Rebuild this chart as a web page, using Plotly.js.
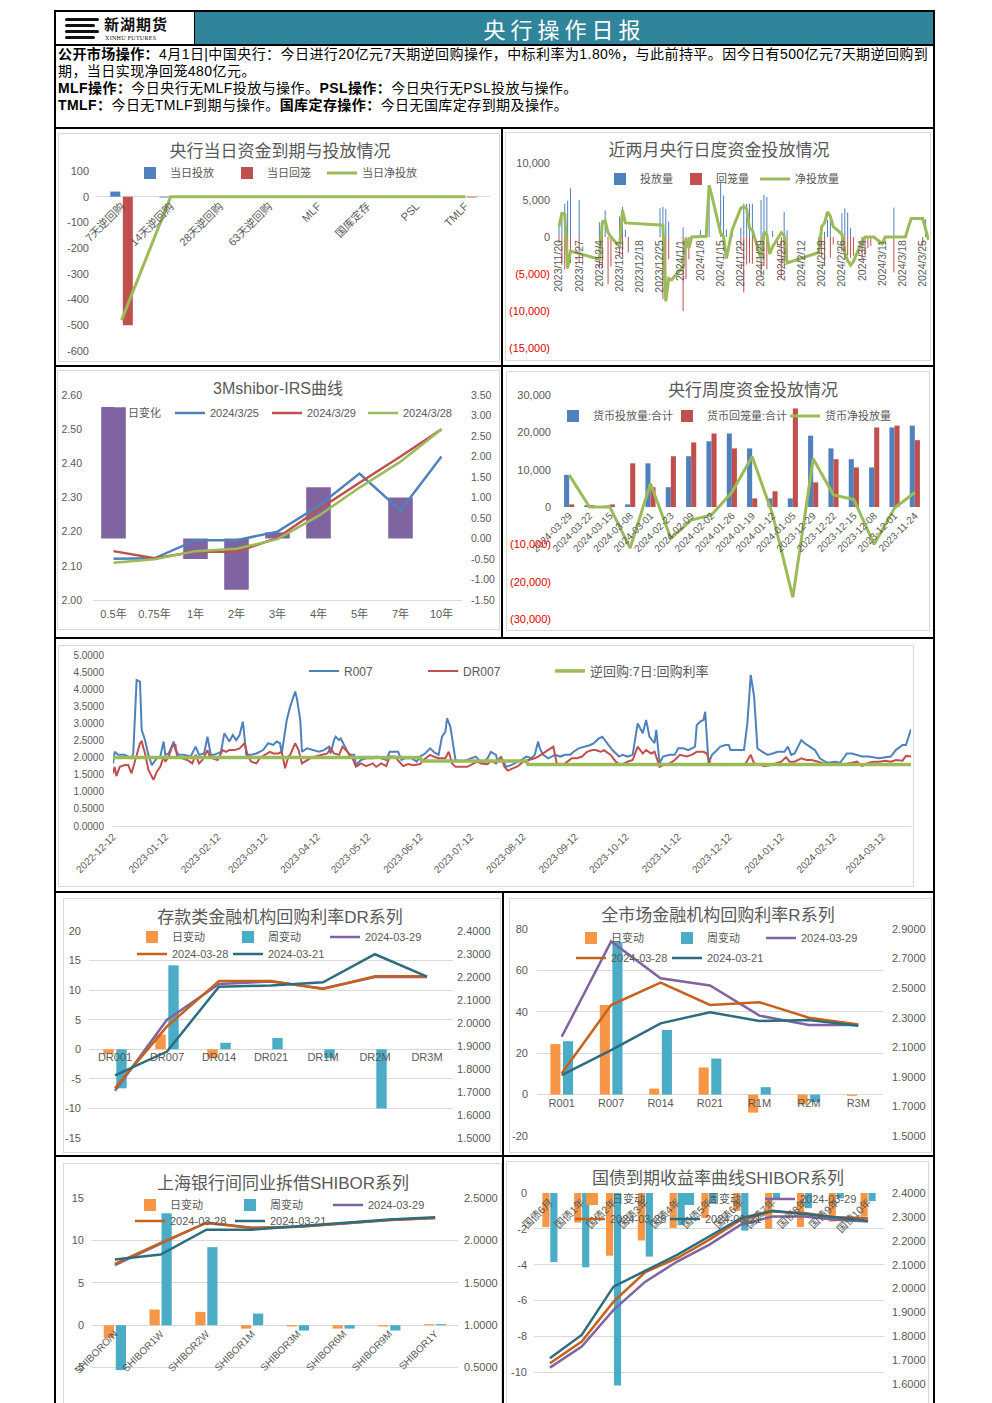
<!DOCTYPE html>
<html><head><meta charset="utf-8">
<script src="https://cdn.plot.ly/plotly-3.0.1.min.js"></script>
<style>
html,body{margin:0;padding:0;background:#fff;}
body{width:992px;height:1403px;overflow:hidden;position:relative;font-family:"Noto Sans CJK SC","Noto Sans",sans-serif;}
.abs{position:absolute;}
.bl{position:absolute;background:#000;z-index:20;}
.tl{position:absolute;left:0;height:17px;line-height:17px;white-space:nowrap;}
</style></head><body>

<!-- header -->
<div class="abs" style="left:55px;top:11px;width:140px;height:34px;background:#fff;">
  <div class="abs" style="left:10px;top:7px;width:34px;height:3px;background:#111;border-radius:2px;"></div>
  <div class="abs" style="left:10px;top:13px;width:30px;height:3px;background:#111;border-radius:2px;"></div>
  <div class="abs" style="left:10px;top:19px;width:34px;height:3px;background:#111;border-radius:2px;"></div>
  <div class="abs" style="left:10px;top:25px;width:30px;height:3px;background:#111;border-radius:2px;"></div>
  <div class="abs" style="left:49px;top:4px;font-size:15px;font-weight:bold;color:#111;line-height:18px;letter-spacing:1px;">新湖期货</div>
  <div class="abs" style="left:50px;top:24px;font-size:6px;color:#111;line-height:7px;font-family:'Liberation Serif',serif;letter-spacing:0.3px;">XINHU FUTURES</div>
</div>
<div class="abs" style="left:195px;top:11px;width:739px;height:34px;background:#31859B;color:#fff;font-size:22px;line-height:34px;text-align:center;letter-spacing:5px;">央行操作日报</div>

<div id="txt" class="abs" style="left:58px;top:46px;width:876px;height:82px;font-size:14px;color:#000;font-family:'Liberation Sans','Noto Sans CJK SC',sans-serif;">
  <div id="ln1" class="tl" style="top:0px;"><b>公开市场操作：</b>4月1日|中国央行：今日进行20亿元7天期逆回购操作，中标利率为1.80%，与此前持平。因今日有500亿元7天期逆回购到</div>
  <div class="tl" style="top:17px;">期，当日实现净回笼480亿元。</div>
  <div class="tl" style="top:34px;"><b>MLF操作：</b>今日央行无MLF投放与操作。<b>PSL操作：</b>今日央行无PSL投放与操作。</div>
  <div class="tl" style="top:51px;"><b>TMLF：</b>今日无TMLF到期与操作。<b>国库定存操作：</b>今日无国库定存到期及操作。</div>
</div>

<!-- frame lines -->
<div class="bl" style="left:55px;top:10px;width:880px;height:2px;"></div>
<div class="bl" style="left:55px;top:44px;width:880px;height:2px;"></div>
<div class="bl" style="left:55px;top:127px;width:880px;height:2px;"></div>
<div class="bl" style="left:55px;top:365px;width:880px;height:2px;"></div>
<div class="bl" style="left:55px;top:637px;width:880px;height:2px;"></div>
<div class="bl" style="left:55px;top:891px;width:880px;height:2px;"></div>
<div class="bl" style="left:55px;top:1155px;width:880px;height:2px;"></div>
<div class="bl" style="left:54px;top:10px;width:2px;height:1400px;"></div>
<div class="bl" style="left:933px;top:10px;width:2px;height:1400px;"></div>
<div class="bl" style="left:501px;top:127px;width:2px;height:512px;"></div>
<div class="bl" style="left:502px;top:891px;width:2px;height:520px;"></div>
<div class="bl" style="left:194px;top:10px;width:1px;height:36px;"></div>

<script>
// ---------------- DATA ----------------
// Chart 1: 央行当日资金到期与投放情况
const c1Cats = ['7天逆回购','14天逆回购','28天逆回购','63天逆回购','MLF','国库定存','PSL','TMLF'];
const c1Inject = [20, -3, 0, 0, 0, 0, 0, 0];
const c1Withdraw = [-500, 0, 0, 0, 0, 0, 0, -3];
const c1Net = [-480, 0, 0, 0, 0, 0, 0, 0];
const c1YTicks = [-600,-500,-400,-300,-200,-100,0,100];
const c1YLabels = ['-600','-500','-400','-300','-200','-100','0','100'];

// Chart 2: 近两月央行日度资金投放情况
const c2InvDates = ['2023-11-20','2023-11-21','2023-11-22','2023-11-23','2023-11-24','2023-11-27','2023-12-04','2023-12-05','2023-12-06','2023-12-11','2023-12-12','2023-12-13','2023-12-25','2023-12-26','2023-12-27','2023-12-28','2024-01-02','2024-01-08','2024-01-11','2024-01-15','2024-01-16','2024-01-17','2024-01-19','2024-01-22','2024-01-23','2024-01-24','2024-01-25','2024-01-26','2024-01-29','2024-01-30','2024-01-31','2024-02-02','2024-02-06','2024-02-07','2024-02-19','2024-02-20','2024-02-21','2024-02-22','2024-02-26','2024-02-27','2024-02-28','2024-02-29','2024-03-15','2024-03-26'];
const c2InvValues = [1800,3000,4500,4900,6600,5000,2000,2300,3600,2800,4100,1000,3900,4100,3800,2100,1300,900,7000,7500,5600,1000,1000,1300,4500,4500,4500,4500,5000,5700,5400,800,3400,900,500,700,2300,3000,3200,3900,3300,1200,4000,2400];
const c2WdDates = ['2023-11-20','2023-11-21','2023-11-22','2023-11-23','2023-11-24','2023-11-27','2023-12-04','2023-12-05','2023-12-07','2023-12-08','2023-12-11','2023-12-12','2023-12-14','2023-12-26','2023-12-27','2023-12-28','2024-01-02','2024-01-03','2024-01-04','2024-01-22','2024-01-23','2024-01-24','2024-01-25','2024-01-26','2024-01-29','2024-01-30','2024-01-31','2024-02-05','2024-02-06','2024-02-07','2024-02-18','2024-02-19','2024-02-20','2024-02-22','2024-02-23','2024-02-26','2024-02-27','2024-02-28','2024-02-29','2024-03-01','2024-03-04','2024-03-05','2024-03-06','2024-03-07','2024-03-15','2024-03-25'];
const c2WdValues = [-800,-3500,-4400,-4300,-3500,-3500,-4300,-4200,-6400,-4000,-2500,-2500,-2100,-8400,-7500,-3000,-10000,-5700,-3000,-1500,-7500,-3700,-3500,-3600,-5300,-3900,-4400,-5500,-3900,-2600,-1900,-2600,-3900,-2800,-1000,-2000,-2000,-2500,-2800,-2500,-3000,-2500,-1500,-1200,-4800,-1250];
const c2NetDates = ['2023-11-20','2023-11-21','2023-11-22','2023-11-23','2023-11-24','2023-11-27','2023-12-01','2023-12-04','2023-12-05','2023-12-06','2023-12-07','2023-12-08','2023-12-11','2023-12-12','2023-12-13','2023-12-26','2023-12-27','2023-12-28','2023-12-29','2024-01-02','2024-01-03','2024-01-04','2024-01-05','2024-01-08','2024-01-10','2024-01-11','2024-01-12','2024-01-15','2024-01-16','2024-01-17','2024-01-19','2024-01-22','2024-01-23','2024-01-24','2024-01-25','2024-01-26','2024-01-29','2024-01-30','2024-01-31','2024-02-01','2024-02-02','2024-02-05','2024-02-06','2024-02-07','2024-02-18','2024-02-19','2024-02-20','2024-02-21','2024-02-22','2024-02-23','2024-02-26','2024-02-27','2024-02-28','2024-02-29','2024-03-01','2024-03-04','2024-03-05','2024-03-08','2024-03-11','2024-03-12','2024-03-19','2024-03-20','2024-03-21','2024-03-25','2024-03-26','2024-03-27'];
const c2NetValues = [1400,3200,3100,-4200,-1900,-2200,-2700,-3000,1900,2200,600,0,-1300,3600,1900,1600,-8700,-5600,-5800,-4000,-200,-1500,0,0,100,7000,5500,500,100,-2900,1000,3900,4100,3800,1200,900,-3000,700,300,-2300,-1300,600,200,-3500,-2100,1400,1900,3400,2800,1400,400,-2100,-3200,-3800,-3300,-500,0,0,-900,0,0,1300,2500,2500,1000,-400];
const c2YTicks = [-15000,-10000,-5000,0,5000,10000];
const c2YLabels = ['(15,000)','(10,000)','(5,000)','0','5,000','10,000'];

// Chart 3: 3Mshibor-IRS曲线
const c3Cats = ['0.5年','0.75年','1年','2年','3年','4年','5年','7年','10年'];
const c3DayChg = [3.2, 0, -0.5, -1.25, 0.15, 1.25, 0, 1.0, 0];
const c3S0325 = [2.121, 2.122, 2.175, 2.175, 2.200, 2.275, 2.370, 2.262, 2.420];
const c3S0329 = [2.143, 2.122, 2.141, 2.141, 2.182, 2.265, 2.343, 2.420, 2.500];
const c3S0328 = [2.109, 2.119, 2.143, 2.150, 2.178, 2.246, 2.329, 2.405, 2.500];
const c3LeftTicks = [2.0,2.1,2.2,2.3,2.4,2.5,2.6];
const c3LeftLabels = ['2.00','2.10','2.20','2.30','2.40','2.50','2.60'];
const c3RightTicks = [-1.5,-1,-0.5,0,0.5,1,1.5,2,2.5,3,3.5];
const c3RightLabels = ['-1.50','-1.00','-0.50','0.00','0.50','1.00','1.50','2.00','2.50','3.00','3.50'];

// Chart 4: 央行周度资金投放情况
const c4Cats = ['2024-03-29','2024-03-22','2024-03-15','2024-03-08','2024-03-01','2024-02-23','2024-02-09','2024-02-02','2024-01-26','2024-01-19','2024-01-12','2024-01-05','2023-12-29','2023-12-22','2023-12-15','2023-12-08','2023-12-01','2023-11-24'];
const c4Inject = [8600,500,400,700,11700,5300,13600,17600,19700,15700,2300,2300,19100,15700,12800,10600,21300,21800];
const c4Withdraw = [700,500,700,11700,5300,13600,17300,19700,15700,2300,4200,26400,6600,12800,10600,21300,21800,17900];
const c4Net = [8600,0,0,-11000,6300,-8400,-3500,-2100,3900,13500,-1900,-24200,12900,3200,2000,-10000,-300,3900];
const c4YTicks = [-30000,-20000,-10000,0,10000,20000,30000];
const c4YLabels = ['(30,000)','(20,000)','(10,000)','0','10,000','20,000','30,000'];

// Chart 5: R007 / DR007 / 逆回购:7日:回购利率 (x = days after 2022-12-12)
const c5Start = '2022-12-12';
const c5R007Day = [0,1,3,7,11,12,14,16,17,19,21,23,26,28,30,31,33,36,37,39,42,46,49,51,54,56,58,60,64,66,69,71,73,75,77,79,82,85,89,92,95,97,99,100,103,105,108,109,111,112,115,119,122,125,128,129,131,132,134,135,138,140,143,144,147,150,154,156,159,162,164,167,169,171,173,177,180,182,185,188,190,193,195,197,198,200,202,203,207,210,213,215,218,220,222,224,227,228,231,233,236,238,242,245,248,250,252,253,255,258,262,265,268,271,273,276,280,283,285,288,290,293,296,300,302,305,308,311,314,316,318,321,322,324,326,330,333,335,338,341,345,346,348,350,351,353,355,357,360,363,365,366,369,371,374,376,378,380,382,385,388,391,394,398,400,402,404,408,410,413,416,419,422,424,428,431,434,435,438,441,444,448,451,454,458,461,464,468,470,473];
const c5R007 = [1.83,2.17,2.08,2.08,1.98,2.12,4.27,4.22,2.81,2.51,2.08,1.78,1.98,2.03,2.47,2.08,2.12,2.47,2.22,2.08,2.08,2.03,2.32,2.08,2.12,2.61,2.08,2.08,2.17,2.71,2.47,2.66,2.51,2.66,3.05,2.08,2.08,2.12,2.22,2.42,2.37,2.47,2.42,2.12,3.10,3.49,3.93,3.73,3.10,2.17,2.27,2.22,2.17,2.22,2.32,2.12,2.51,2.61,2.51,2.56,2.27,2.08,2.08,1.78,1.93,1.98,1.98,2.03,1.98,1.93,2.17,2.17,2.17,1.93,1.98,1.98,1.88,2.03,2.12,2.27,2.17,2.08,2.61,2.76,3.15,2.90,2.22,1.93,1.88,1.93,1.98,2.03,1.88,1.88,1.98,2.17,2.08,1.88,1.93,1.73,1.78,1.83,1.93,2.03,1.98,2.08,2.47,2.27,2.08,1.98,2.08,2.03,2.08,2.08,2.17,2.27,2.32,2.37,2.42,2.56,2.61,2.42,2.22,2.03,2.08,2.03,2.08,3.00,2.71,3.10,2.61,2.42,2.81,1.83,2.03,2.08,2.08,2.27,2.27,2.22,2.32,2.95,3.05,3.10,3.34,1.83,2.08,2.17,2.32,2.37,2.37,2.22,2.22,2.22,2.22,3.00,4.42,3.78,2.27,2.17,2.08,2.12,2.17,2.17,2.32,2.08,2.12,2.51,2.42,2.32,2.22,1.98,1.88,1.85,1.88,1.85,2.08,2.12,2.12,2.08,2.03,2.03,2.01,1.98,2.01,2.03,2.22,2.37,2.37,2.83];
const c5DR007Day = [0,1,2,4,7,9,11,13,16,17,19,21,24,26,28,30,31,33,35,37,38,41,44,47,49,51,53,56,57,59,62,65,67,69,72,75,78,80,82,85,87,90,93,95,98,100,102,104,105,108,110,112,115,117,120,124,127,129,131,134,136,139,142,144,147,150,154,156,159,162,164,167,169,172,175,178,182,184,188,190,193,197,199,201,203,207,210,213,216,218,222,224,227,230,232,234,237,240,243,247,250,252,256,259,261,263,265,268,272,275,278,281,284,286,289,291,295,298,301,305,308,311,314,316,319,321,324,326,330,333,336,340,343,346,350,352,354,358,361,365,368,371,375,378,380,383,386,390,393,396,399,401,404,408,411,414,418,421,424,428,431,434,438,441,444,448,451,454,458,461,464,468,470,473];
const c5DR007 = [1.54,1.73,1.46,1.73,1.78,1.78,1.54,1.88,2.42,2.47,2.12,1.64,1.35,1.59,1.73,2.03,1.88,2.03,2.32,2.37,2.03,1.98,1.93,1.83,2.08,1.83,1.93,2.22,2.08,1.98,1.93,2.22,2.17,2.22,2.22,2.27,2.42,2.03,1.88,1.83,1.98,2.08,2.17,2.12,2.12,2.17,1.69,2.03,2.08,2.42,2.22,1.83,1.93,1.98,2.03,2.08,2.12,2.27,2.12,2.08,2.32,2.17,1.98,1.73,1.83,1.75,1.83,1.73,1.83,1.75,2.03,2.03,1.93,1.75,1.81,1.78,1.81,1.93,2.08,2.03,1.98,1.98,2.17,1.83,1.73,1.72,1.73,1.81,1.88,1.83,1.81,1.91,1.83,2.03,1.73,1.62,1.69,1.75,1.88,1.93,1.98,2.03,2.17,2.27,2.32,1.83,1.78,1.83,1.98,1.98,2.03,2.17,2.22,2.22,2.17,2.22,2.08,1.88,1.78,1.88,1.93,2.32,2.12,2.22,2.12,2.17,1.73,1.78,1.83,1.93,2.08,2.03,2.08,2.17,2.17,2.12,1.81,1.81,1.78,1.81,1.78,1.78,1.83,2.08,1.83,1.81,1.75,1.78,1.83,1.88,2.01,1.88,1.88,1.98,1.93,1.93,1.88,1.83,1.81,1.81,1.81,1.81,1.85,1.88,1.75,1.85,1.88,1.88,1.91,1.88,1.93,1.91,2.05,2.03];
const c5RevDay = [0,182,183,245,246,473];
const c5Rev = [2.00,2.00,1.90,1.90,1.80,1.80];
const c5TickLabels = ['2022-12-12','2023-01-12','2023-02-12','2023-03-12','2023-04-12','2023-05-12','2023-06-12','2023-07-12','2023-08-12','2023-09-12','2023-10-12','2023-11-12','2023-12-12','2024-01-12','2024-02-12','2024-03-12'];
const c5YTicks = [0,0.5,1,1.5,2,2.5,3,3.5,4,4.5,5];
const c5YLabels = ['0.0000','0.5000','1.0000','1.5000','2.0000','2.5000','3.0000','3.5000','4.0000','4.5000','5.0000'];

// Chart 6: 存款类金融机构回购利率DR系列
const c6Cats = ['DR001','DR007','DR014','DR021','DR1M','DR2M','DR3M'];
const c6Daily = [-0.8, 2.5, -1.5, 0, 0, 0, 0];
const c6Weekly = [-6.6, 14.2, 1.1, 1.9, -1.5, -10.0, 0];
const c6D0329 = [1.705, 2.014, 2.170, 2.180, 2.150, 2.200, 2.200];
const c6D0328 = [1.717, 1.985, 2.183, 2.183, 2.148, 2.203, 2.203];
const c6D0321 = [1.772, 1.876, 2.158, 2.163, 2.177, 2.299, 2.202];
const c6LeftTicks = [-15,-10,-5,0,5,10,15,20];
const c6LeftLabels = ['-15','-10','-5','0','5','10','15','20'];
const c6RightTicks = [1.5,1.6,1.7,1.8,1.9,2.0,2.1,2.2,2.3,2.4];
const c6RightLabels = ['1.5000','1.6000','1.7000','1.8000','1.9000','2.0000','2.1000','2.2000','2.3000','2.4000'];

// Chart 7: 全市场金融机构回购利率R系列
const c7Cats = ['R001','R007','R014','R021','R1M','R2M','R3M'];
const c7Daily = [24.4, 43.3, 2.9, 13.1, -8.7, -4.8, -0.6];
const c7Weekly = [25.8, 73.7, 31.2, 17.4, 3.6, -3.6, 0];
const c7D0329 = [2.171, 2.816, 2.567, 2.518, 2.314, 2.251, 2.251];
const c7D0328 = [1.923, 2.386, 2.538, 2.386, 2.405, 2.300, 2.255];
const c7D0321 = [1.911, 2.081, 2.262, 2.337, 2.278, 2.285, 2.246];
const c7LeftTicks = [-20,0,20,40,60,80];
const c7LeftLabels = ['-20','0','20','40','60','80'];
const c7RightTicks = [1.5,1.7,1.9,2.1,2.3,2.5,2.7,2.9];
const c7RightLabels = ['1.5000','1.7000','1.9000','2.1000','2.3000','2.5000','2.7000','2.9000'];

// Chart 8: 上海银行间同业拆借SHIBOR系列 (bottom of chart falls below the page)
const c8Cats = ['SHIBORO/N','SHIBOR1W','SHIBOR2W','SHIBOR1M','SHIBOR3M','SHIBOR6M','SHIBOR9M','SHIBOR1Y'];
const c8Daily = [-1.5, 1.85, 1.57, -0.4, -0.15, -0.4, -0.15, 0.12];
const c8Weekly = [-5.3, 13.2, 9.2, 1.37, -0.63, -0.4, -0.63, 0.12];
const c8D0329 = [1.708, 1.960, 2.212, 2.150, 2.160, 2.198, 2.240, 2.265];
const c8D0328 = [1.724, 1.970, 2.206, 2.147, 2.160, 2.198, 2.240, 2.265];
const c8D0321 = [1.775, 1.833, 2.127, 2.127, 2.167, 2.206, 2.245, 2.273];
const c8LeftTicks = [-5,0,5,10,15];
const c8LeftLabels = ['-5','0','5','10','15'];
const c8RightTicks = [0.5,1,1.5,2,2.5];
const c8RightLabels = ['0.5000','1.0000','1.5000','2.0000','2.5000'];

// Chart 9: 国债到期收益率曲线SHIBOR系列 (bottom of chart falls below the page)
const c9Cats = ['国债6月','国债1年','国债2年','国债3年','国债4年','国债5年','国债6年','国债7年','国债8年','国债9年','国债10年'];
const c9Daily = [-1.9, -1.65, -3.5, -2.65, -1.95, -1.4, -1.0, -2.0, -1.9, -1.6, -1.3];
const c9Weekly = [-3.85, -4.15, -10.75, -3.55, -1.8, -0.6, -2.1, -0.3, -0.85, -0.3, -0.45];
const c9D0329 = [1.669, 1.757, 1.911, 2.029, 2.113, 2.183, 2.267, 2.302, 2.302, 2.288, 2.281];
const c9D0328 = [1.687, 1.778, 1.945, 2.069, 2.127, 2.204, 2.288, 2.323, 2.316, 2.298, 2.295];
const c9D0321 = [1.708, 1.806, 2.008, 2.074, 2.141, 2.218, 2.295, 2.326, 2.312, 2.295, 2.284];
const c9LeftTicks = [-10,-8,-6,-4,-2,0];
const c9LeftLabels = ['-10','-8','-6','-4','-2','0'];
const c9RightTicks = [1.6,1.7,1.8,1.9,2.0,2.1,2.2,2.3,2.4];
const c9RightLabels = ['1.6000','1.7000','1.8000','1.9000','2.0000','2.1000','2.2000','2.3000','2.4000'];

// ---------------- STYLE / HELPERS ----------------
const FONT = '"Liberation Sans","Noto Sans CJK SC",sans-serif';
const GRAY = '#595959';
const BLUE='#4F81BD', RED='#C0504D', GREEN='#9BBB59', PURPLE='#8064A2', ORANGE='#F79646', TEAL='#4BACC6', BROWN='#C5621C', DTEAL='#2C6E7F';
const NEGRED = '#E00000';
const GRID = '#D9D9D9';

function redNeg(labels){ return labels.map(s => s.startsWith('(') ? '<span style="color:'+NEGRED+'">'+s+'</span>' : s); }
function dayToDate(d){ return new Date(Date.parse(c5Start+'T00:00:00Z') + d*864e5).toISOString().slice(0,10); }

function legendAt(box, textX, yc, size){
  return {xref:'container', yref:'container', x:(textX-40-box.left)/box.w, y:1-(yc-box.top)/box.h,
          xanchor:'left', yanchor:'middle', bgcolor:'rgba(0,0,0,0)', borderwidth:0,
          font:{family:FONT, size:size||11, color:GRAY}};
}

function draw(id, box, plot, traces, extra, legends, title){
  const el = document.createElement('div');
  el.id = id;
  el.style.cssText = 'position:absolute;left:'+box.left+'px;top:'+box.top+'px;width:'+box.w+'px;height:'+box.h+'px;';
  document.body.appendChild(el);
  const brd = document.createElement('div');
  brd.style.cssText = 'position:absolute;left:'+box.left+'px;top:'+box.top+'px;width:'+box.w+'px;height:'+box.h+'px;border:1px solid '+GRID+';box-sizing:border-box;pointer-events:none;z-index:5;';
  document.body.appendChild(brd);
  const layout = Object.assign({
    width: box.w, height: box.h,
    margin: {l: plot.x0-box.left, r: box.left+box.w-plot.x1, t: plot.y0-box.top, b: box.top+box.h-plot.y1, pad:0, autoexpand:false},
    paper_bgcolor:'rgba(0,0,0,0)', plot_bgcolor:'rgba(0,0,0,0)',
    font:{family:FONT, size:11, color:GRAY}, showlegend:true
  }, extra);
  if(title){
    layout.title = {text:title[0], xref:'container', yref:'container', x:(title[1]-box.left)/box.w, y:1-(title[2]-box.top)/box.h,
                    xanchor:'center', yanchor:'middle', font:{family:FONT, size:title[3]||17, color:GRAY}};
  }
  legends.forEach((lg,i) => { layout[i===0?'legend':'legend'+(i+1)] = legendAt(box, lg[0], lg[1], lg[2]); });
  traces.forEach((t,i) => { t.legend = i===0?'legend':'legend'+(i+1); });
  Plotly.newPlot(el, traces, layout, {staticPlot:true, displayModeBar:false});
}

const noGrid = {showgrid:false, zeroline:false, showline:false, ticks:''};

// ---------------- CHART 1 ----------------
draw('c1', {left:58,top:133,w:442,h:229}, {x0:97,x1:490,y0:171,y1:351}, [
  {type:'bar', name:'当日投放', x:c1Cats, y:c1Inject, marker:{color:BLUE}},
  {type:'bar', name:'当日回笼', x:c1Cats, y:c1Withdraw, marker:{color:RED}},
  {type:'scatter', mode:'lines', name:'当日净投放', x:c1Cats, y:c1Net, line:{color:GREEN, width:3}}
], {
  barmode:'group', bargap:0.49, bargroupgap:0.2,
  xaxis:Object.assign({}, noGrid, {type:'category', anchor:'free', position:6/7, tickangle:-45, tickfont:{size:11}}),
  yaxis:Object.assign({}, noGrid, {range:[-600,100], tickvals:c1YTicks, ticktext:c1YLabels, zeroline:true, zerolinecolor:GRID, zerolinewidth:1, ticklabelstandoff:7, tickfont:{size:11}})
}, [[170,173],[267,173],[362,173]], ['央行当日资金到期与投放情况', 280, 151, 17]);

// ---------------- CHART 2 ----------------
draw('c2', {left:505,top:132,w:426,h:229}, {x0:555,x1:929,y0:163,y1:348}, [
  {type:'bar', name:'投放量', x:c2InvDates, y:c2InvValues, width:0.35*864e5, marker:{color:BLUE}},
  {type:'bar', name:'回笼量', x:c2WdDates, y:c2WdValues, width:0.35*864e5, marker:{color:RED}},
  {type:'scatter', mode:'lines', name:'净投放量', x:c2NetDates, y:c2NetValues, line:{color:GREEN, width:3}}
], {
  barmode:'overlay',
  xaxis:Object.assign({}, noGrid, {type:'date', range:['2023-11-18 15:00','2024-03-27 04:00'], anchor:'free', position:0.6,
        tick0:'2023-11-20', dtick:7*864e5, tickformat:'%Y/%-m/%-d', tickangle:-90, tickfont:{size:10.5}}),
  yaxis:Object.assign({}, noGrid, {range:[-15000,10000], tickvals:c2YTicks, ticktext:redNeg(c2YLabels), ticklabelstandoff:4, tickfont:{size:11}})
}, [[640,179],[716,179],[795,179]], ['近两月央行日度资金投放情况', 719, 150, 17]);

// ---------------- CHART 3 ----------------
draw('c3', {left:57,top:370,w:443,h:260}, {x0:93,x1:462,y0:395.3,y1:600.3}, [
  {type:'bar', name:'日变化', x:c3Cats, y:c3DayChg, marker:{color:PURPLE}, yaxis:'y'},
  {type:'scatter', mode:'lines', name:'2024/3/25', x:c3Cats, y:c3S0325, line:{color:BLUE, width:2.5}, yaxis:'y2'},
  {type:'scatter', mode:'lines', name:'2024/3/29', x:c3Cats, y:c3S0329, line:{color:RED, width:2.5}, yaxis:'y2'},
  {type:'scatter', mode:'lines', name:'2024/3/28', x:c3Cats, y:c3S0328, line:{color:GREEN, width:2.5}, yaxis:'y2'}
], {
  bargap:0.4,
  xaxis:{type:'category', showgrid:false, zeroline:false, showline:true, linecolor:GRID, ticks:'', tickfont:{size:11}, ticklabelstandoff:4},
  yaxis:Object.assign({}, noGrid, {side:'right', range:[-1.5,3.5], tickvals:c3RightTicks, ticktext:c3RightLabels, ticklabelstandoff:8, tickfont:{size:10.5}}),
  yaxis2:Object.assign({}, noGrid, {overlaying:'y', anchor:'x', side:'left', range:[2.0,2.6], tickvals:c3LeftTicks, ticktext:c3LeftLabels, ticklabelstandoff:10, tickfont:{size:10.5}})
}, [[128,413],[210,413],[307,413],[403,413]], ['3Mshibor-IRS曲线', 278, 388, 16]);

// ---------------- CHART 4 ----------------
draw('c4', {left:506,top:371,w:424,h:260}, {x0:558.8,x1:925.5,y0:394.7,y1:618.7}, [
  {type:'bar', name:'货币投放量:合计', x:c4Cats, y:c4Inject, marker:{color:BLUE}},
  {type:'bar', name:'货币回笼量:合计', x:c4Cats, y:c4Withdraw, marker:{color:RED}},
  {type:'scatter', mode:'lines', name:'货币净投放量', x:c4Cats, y:c4Net, line:{color:GREEN, width:3}}
], {
  barmode:'group', bargap:0.5, bargroupgap:0,
  xaxis:Object.assign({}, noGrid, {type:'category', anchor:'free', position:0.5, tickangle:-45, tickfont:{size:10}}),
  yaxis:Object.assign({}, noGrid, {range:[-30000,30000], tickvals:c4YTicks, ticktext:redNeg(c4YLabels), ticklabelstandoff:7, tickfont:{size:11}})
}, [[593,416],[707,416],[825,416]], ['央行周度资金投放情况', 753, 389.7, 17]);

// ---------------- CHART 5 ----------------
draw('c5', {left:58,top:645,w:856,h:242}, {x0:113,x1:911,y0:655,y1:826}, [
  {type:'scatter', mode:'lines', name:'R007', x:c5R007Day.map(dayToDate), y:c5R007, line:{color:BLUE, width:2}},
  {type:'scatter', mode:'lines', name:'DR007', x:c5DR007Day.map(dayToDate), y:c5DR007, line:{color:RED, width:2}},
  {type:'scatter', mode:'lines', name:'逆回购:7日:回购利率', x:c5RevDay.map(dayToDate), y:c5Rev, line:{color:GREEN, width:3.5}}
], {
  xaxis:{type:'date', range:['2022-12-12','2024-03-29'], tickvals:c5TickLabels, ticktext:c5TickLabels, tickangle:-45,
         showgrid:false, zeroline:false, showline:true, linecolor:GRID, ticks:'', tickfont:{size:10}},
  yaxis:Object.assign({}, noGrid, {range:[0,5], tickvals:c5YTicks, ticktext:c5YLabels, ticklabelstandoff:8, tickfont:{size:10}})
}, [[344,671,12],[463,671,12],[590,671,13]], null);

// ---------------- CHART 6..9 (bars left, lines right) ----------------
function comboLayout(leftRange, leftTicks, leftLabels, rightRange, rightTicks, rightLabels, pos, angle, gap, ggap, lsOff, rsOff, xfs){
  return {
    barmode:'group', bargap:gap, bargroupgap:ggap,
    xaxis:Object.assign({}, noGrid, {type:'category', anchor:'free', position:pos, side:'bottom', tickangle:angle, tickfont:{size:xfs}}),
    yaxis:{range:leftRange, tickvals:leftTicks, ticktext:leftLabels, showgrid:true, gridcolor:GRID, gridwidth:1, zeroline:false, showline:false, ticks:'', ticklabelstandoff:lsOff, tickfont:{size:11}},
    yaxis2:Object.assign({}, noGrid, {overlaying:'y', anchor:'x', side:'right', range:rightRange, tickvals:rightTicks, ticktext:rightLabels, ticklabelstandoff:rsOff, tickfont:{size:11}})
  };
}
function comboTraces(cats, daily, weekly, a, b, c){
  return [
    {type:'bar', name:'日变动', x:cats, y:daily, marker:{color:ORANGE}, yaxis:'y'},
    {type:'bar', name:'周变动', x:cats, y:weekly, marker:{color:TEAL}, yaxis:'y'},
    {type:'scatter', mode:'lines', name:'2024-03-29', x:cats, y:a, line:{color:PURPLE, width:2.5}, yaxis:'y2'},
    {type:'scatter', mode:'lines', name:'2024-03-28', x:cats, y:b, line:{color:BROWN, width:2.5}, yaxis:'y2'},
    {type:'scatter', mode:'lines', name:'2024-03-21', x:cats, y:c, line:{color:DTEAL, width:2.5}, yaxis:'y2'}
  ];
}

draw('c6', {left:63,top:898,w:438,h:255}, {x0:89.1,x1:452.6,y0:931,y1:1138.3},
  comboTraces(c6Cats, c6Daily, c6Weekly, c6D0329, c6D0328, c6D0321),
  comboLayout([-15,20], c6LeftTicks, c6LeftLabels, [1.5,2.4], c6RightTicks, c6RightLabels, 15/35, 0, 0.5, 0.2, 7, 3, 11),
  [[172,937],[268,937],[365,937],[172,954],[268,954]], ['存款类金融机构回购利率DR系列', 280, 916.7, 17]);

draw('c7', {left:509,top:898,w:423,h:255}, {x0:536.5,x1:882.8,y0:929.3,y1:1135.7},
  comboTraces(c7Cats, c7Daily, c7Weekly, c7D0329, c7D0328, c7D0321),
  comboLayout([-20,80], c7LeftTicks, c7LeftLabels, [1.5,2.9], c7RightTicks, c7RightLabels, 0.2, 0, 0.49, 0.2, 8, 8, 11),
  [[611,938],[707,938],[801,938],[611,958],[707,958]], ['全市场金融机构回购利率R系列', 718, 915, 17]);

draw('c8', {left:63,top:1163,w:439,h:257}, {x0:92.1,x1:457.9,y0:1198,y1:1410.2},
  comboTraces(c8Cats, c8Daily, c8Weekly, c8D0329, c8D0328, c8D0321),
  comboLayout([-10,15], c8LeftTicks, c8LeftLabels, [0,2.5], c8RightTicks, c8RightLabels, 0.4, -45, 0.475, 0.15, 7, 5, 10),
  [[170,1205],[270,1205],[368,1205],[170,1221],[270,1221]], ['上海银行间同业拆借SHIBOR系列', 283, 1183, 17]);

draw('c9', {left:506,top:1161,w:423,h:257}, {x0:534.4,x1:883.9,y0:1193,y1:1408.2},
  comboTraces(c9Cats, c9Daily, c9Weekly, c9D0329, c9D0328, c9D0321),
  comboLayout([-12,0], c9LeftTicks, c9LeftLabels, [1.5,2.4], c9RightTicks, c9RightLabels, 1.0, -45, 0.5, 0.1, 6, 7, 10.5),
  [[612,1199],[708,1199],[800,1199],[610,1219],[705,1219]], ['国债到期收益率曲线SHIBOR系列', 718, 1178, 17]);

// fit first text line to the box width
(function(){
  const l1 = document.getElementById('ln1');
  const w = l1.getBoundingClientRect().width;
  const n = l1.textContent.length;
  const ls = (870 - w) / n;
  document.getElementById('txt').style.letterSpacing = ls.toFixed(2) + 'px';
})();
</script>
</body></html>
